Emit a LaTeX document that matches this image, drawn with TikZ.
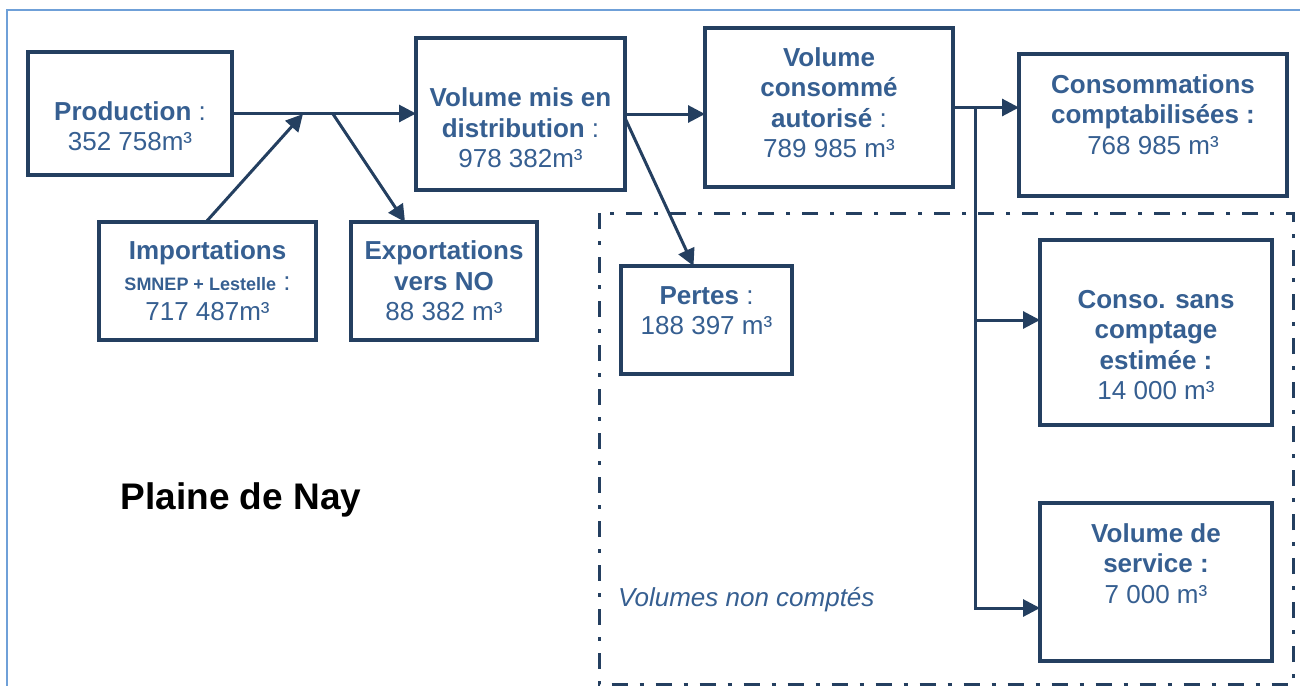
\documentclass[tikz,border=0pt]{standalone}
\usepackage{fontspec}
\setmainfont{Liberation Sans}
\usetikzlibrary{arrows.meta}
\definecolor{bord}{HTML}{243F60}
\definecolor{txtc}{HTML}{365F91}
\definecolor{frame}{HTML}{6FA0D8}
\tikzset{
  box/.style={draw=bord, line width=3.5pt, rectangle, inner sep=0pt, outer sep=0pt},
  txt/.style={text=txtc, align=center, font=\fontsize{26}{30.5}\selectfont, inner sep=0pt},
  arr/.style={draw=bord, line width=3pt, -{Triangle[length=17pt,width=17pt]}},
  ln/.style={draw=bord, line width=3pt},
}
\begin{document}
\begin{tikzpicture}[x=1pt,y=-1pt]
\useasboundingbox (0,0) rectangle (1300,686);
\fill[white] (0,0) rectangle (1300,686);
% outer frame
\draw[frame, line width=2pt] (1300,10) -- (7,10) -- (7,686);
% dash-dot region
\draw[bord, line width=3pt, dash pattern=on 16pt off 12pt on 4pt off 12pt] (599,213) rectangle (1293,684.5);

% boxes
\node[box, minimum width=204pt, minimum height=123pt] (prod) at (130,113.5) {};
\node[box, minimum width=217pt, minimum height=118pt] (imp) at (207.5,281) {};
\node[box, minimum width=186pt, minimum height=118pt] (exp) at (444,281) {};
\node[box, minimum width=209pt, minimum height=152pt] (vmd) at (520.5,114) {};
\node[box, minimum width=248pt, minimum height=159pt] (vca) at (829,107.5) {};
\node[box, minimum width=268pt, minimum height=142pt] (cc) at (1153,125) {};
\node[box, minimum width=171pt, minimum height=108pt] (pertes) at (706.5,320) {};
\node[box, minimum width=232pt, minimum height=185pt] (css) at (1156,332.5) {};
\node[box, minimum width=232pt, minimum height=158pt] (serv) at (1156,582) {};

% texts
\node[txt] (tprod) at (130,126) {\textbf{Production} :\\352 758m³};
\node[txt] (timp) at (207.5,281) {\textbf{Importations}\\{\fontsize{18}{30.5}\selectfont\textbf{SMNEP + Lestelle}} :\\717 487m³};
\node[txt] (texp) at (444,281) {\textbf{Exportations}\\\textbf{vers NO}\\88 382 m³};
\node[txt] (tvmd) at (520.5,128) {\textbf{Volume mis en}\\\textbf{distribution} :\\978 382m³};
\node[txt] (tvca) at (829,102.5) {\textbf{Volume}\\\textbf{consommé}\\\textbf{autorisé} :\\789 985 m³};
\node[txt] (tcc) at (1153,114.5) {\textbf{Consommations}\\\textbf{comptabilisées :}\\768 985 m³};
\node[txt] (tpertes) at (706.5,310.5) {\textbf{Pertes} :\\188 397 m³};
\node[txt] (tcss) at (1156,345) {\textbf{Conso. sans}\\\textbf{comptage}\\\textbf{estimée :}\\14 000 m³};
\node[txt] (tserv) at (1156,563.5) {\textbf{Volume de}\\\textbf{service :}\\7 000 m³};
\node[inner sep=0pt, font=\fontsize{37}{42}\selectfont\bfseries] (plaine) at (241,500) {Plaine de Nay};
\node[txt, anchor=west, font=\fontsize{26}{30}\selectfont\itshape] (vnc) at (618,600) {Volumes non comptés};

% junctions
\coordinate (j1) at (303,114);
\coordinate (j2) at (333,114);
\coordinate (br) at (975,107.5);

% connectors
\draw[arr] (prod.east) -- (prod.east -| vmd.west);
\draw[arr] ([xshift=-1.5pt]imp.north) -- (j1);
\draw[arr] (j2) -- ([xshift=-39pt]exp.north);
\draw[arr] (vmd.east) -- (vmd.east -| vca.west);
\draw[arr] ([yshift=-4pt]vmd.east) -- ([xshift=-13pt]pertes.north);
\draw[arr] (vca.east) -- (vca.east -| cc.west);
\draw[arr] (br) |- ([yshift=12.5pt]css.west);
\draw[arr] (br) |- ([yshift=-26pt]serv.west);
\end{tikzpicture}
\end{document}
